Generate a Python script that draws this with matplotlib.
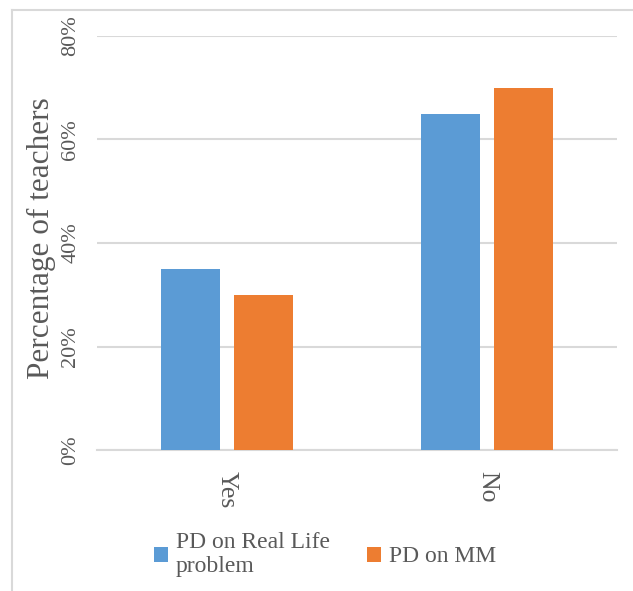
import numpy as np
import matplotlib.pyplot as plt
from matplotlib.lines import Line2D

categories = ["Yes", "No"]
real_life = [35, 65]
mm = [30, 70]
series_names = ["PD on Real Life\nproblem", "PD on MM"]
yticks = [0, 20, 40, 60, 80]

blue = "#5b9bd5"
orange = "#ed7d31"
grey_text = "#595959"
grid_col = "#d9d9d9"

plt.rcParams['font.family'] = ['Liberation Serif', 'DejaVu Serif']

fig = plt.figure(figsize=(6.33, 5.91), dpi=100)
ax = fig.add_axes([97 / 633, 1 - 450 / 591, 520 / 633, 414 / 591])

x = np.arange(len(categories))
w = 0.227
ax.bar(x - 0.142, real_life, w, color=blue, label=series_names[0], zorder=3)
ax.bar(x + 0.142, mm, w, color=orange, label=series_names[1], zorder=3)

ax.set_xlim(-0.5, 1.5)
ax.set_ylim(0, 80)
ax.set_yticks(yticks)
ax.set_yticklabels([f"{t}%" for t in yticks], rotation=90, va='center',
                   fontsize=16, color=grey_text)
ax.set_xticks(x)
ax.set_xticklabels(categories, rotation=-90, fontsize=18.5, color=grey_text)
ax.tick_params(axis='both', length=0)
ax.tick_params(axis='y', pad=12)
ax.tick_params(axis='x', pad=15)
ax.yaxis.grid(True, color=grid_col, linewidth=1.5, zorder=0)
for s in ["top", "right", "left"]:
    ax.spines[s].set_visible(False)
ax.spines["bottom"].set_color(grid_col)
ax.spines["bottom"].set_linewidth(1.5)

ax.set_ylabel("Percentage of teachers", fontsize=22.5, color=grey_text)
ax.yaxis.set_label_coords(-0.078, 0.512)

ax.legend(loc='upper left', bbox_to_anchor=(0.092, -0.175), ncol=2, frameon=False,
          fontsize=17, labelcolor=grey_text, handlelength=0.6, handleheight=0.6,
          handletextpad=0.3, columnspacing=1.6, borderaxespad=0)

# outer frame (top and left edges visible)
fig.add_artist(Line2D([12 / 633, 1], [1 - 10 / 591, 1 - 10 / 591], color=grid_col,
                      linewidth=1.5, transform=fig.transFigure))
fig.add_artist(Line2D([12 / 633, 12 / 633], [0, 1 - 10 / 591], color=grid_col,
                      linewidth=1.5, transform=fig.transFigure))

fig.savefig("out.png", dpi=100)
